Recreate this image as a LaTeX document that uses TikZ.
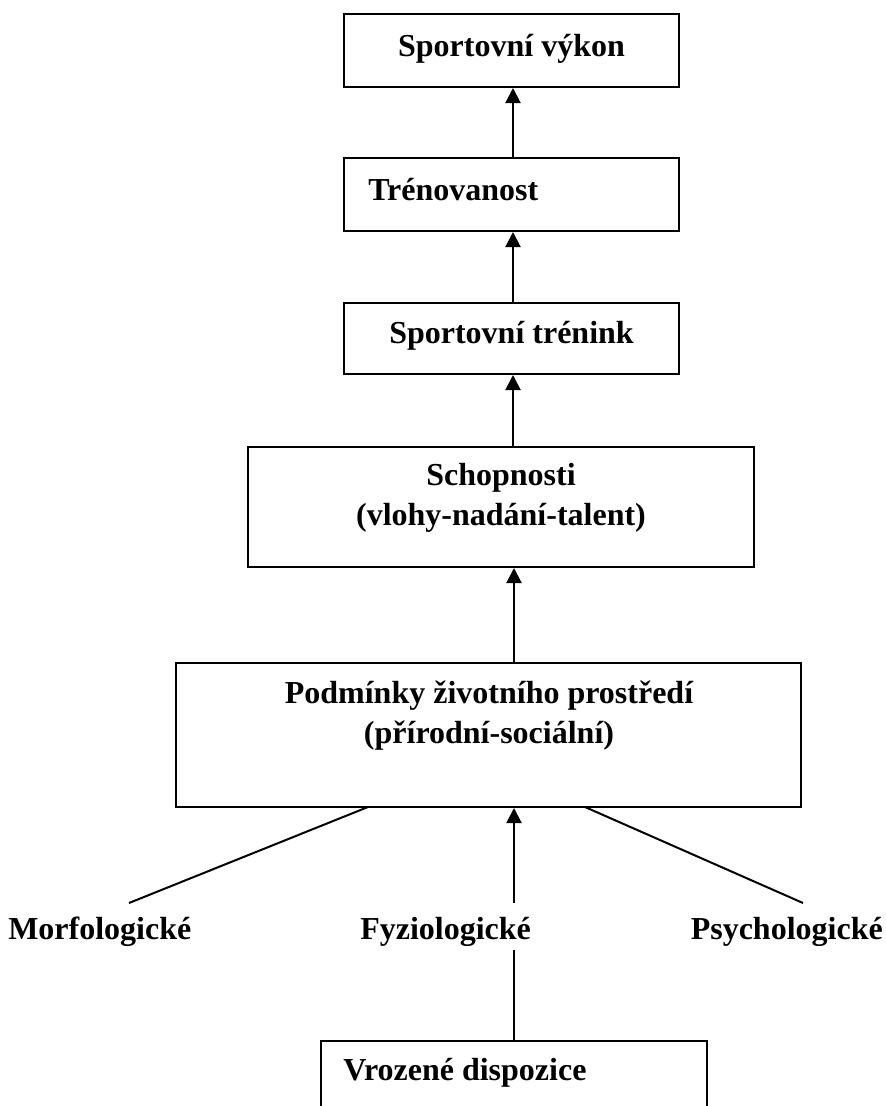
\documentclass[tikz,border=0pt]{standalone}
\usepackage{fontspec}
\setmainfont{Liberation Serif}
\usetikzlibrary{arrows.meta}
\begin{document}
\begin{tikzpicture}[x=0.75pt,y=-0.75pt,
  box/.style={draw,line width=1.5pt,inner sep=0pt},
  txt/.style={font=\fontsize{24}{30}\selectfont\bfseries,inner sep=0pt},
  conn/.style={line width=1.5pt},
  arr/.style={conn,-{Triangle[length=11.25pt,width=11.25pt]}}]
\useasboundingbox (0,0) rectangle (885,1106);
\clip (0,0) rectangle (885,1106);
% boxes
\node[box,minimum width=251.25pt,minimum height=54.75pt] (b1) at (511.5,50.5) {};
\node[box,minimum width=251.25pt,minimum height=54.75pt] (b2) at (511.5,194.5) {};
\node[box,minimum width=251.25pt,minimum height=53.25pt] (b3) at (511.5,338.5) {};
\node[box,minimum width=379.5pt,minimum height=90pt] (b4) at (501,507) {};
\node[box,minimum width=468.75pt,minimum height=108pt] (b5) at (488.5,735) {};
\node[box,minimum width=289.5pt,minimum height=119.25pt] (b6) at (514,1120.5) {};
% texts
\node[txt,anchor=base] (t1) at (511.5,57) {Sportovní výkon};
\node[txt,anchor=base west] (t2) at (368,200) {Trénovanost};
\node[txt,anchor=base] (t3) at (511.5,343) {Sportovní trénink};
\node[txt,anchor=base] (t4a) at (501,485) {Schopnosti};
\node[txt,anchor=base] (t4b) at (501,525) {(vlohy-nadání-talent)};
\node[txt,anchor=base] (t5a) at (489,703) {Podmínky životního prostředí};
\node[txt,anchor=base] (t5b) at (489,743) {(přírodní-sociální)};
\node[txt,anchor=base west] (morf) at (8,939) {Morfologické};
\node[txt,anchor=base west] (fyz) at (360,939) {Fyziologické};
\node[txt,anchor=base east] (psych) at (883,939) {Psychologické};
\node[txt,anchor=base west] (t6) at (343,1080) {Vrozené dispozice};
% connector ends
\coordinate (ax) at (513,0);
\coordinate (mtop) at (129,903);
\coordinate (ptop) at (803,903);
\coordinate (ftop) at (514,903);
\coordinate (fbot) at (514,950);
\coordinate (b5l) at (368,807);
\coordinate (b5r) at (585,807);
% connectors
\draw[arr] (b2.north -| ax) -- (b1.south -| ax);
\draw[arr] (b3.north -| ax) -- (b2.south -| ax);
\draw[arr] (b4.north -| ax) -- (b3.south -| ax);
\draw[arr] (b5.north -| ftop) -- (b4.south -| ftop);
\draw[arr] (ftop) -- (ftop |- b5.south);
\draw[conn] (mtop) -- (b5l);
\draw[conn] (ptop) -- (b5r);
\draw[conn] (b6.north) -- (fbot);
\end{tikzpicture}
\end{document}
